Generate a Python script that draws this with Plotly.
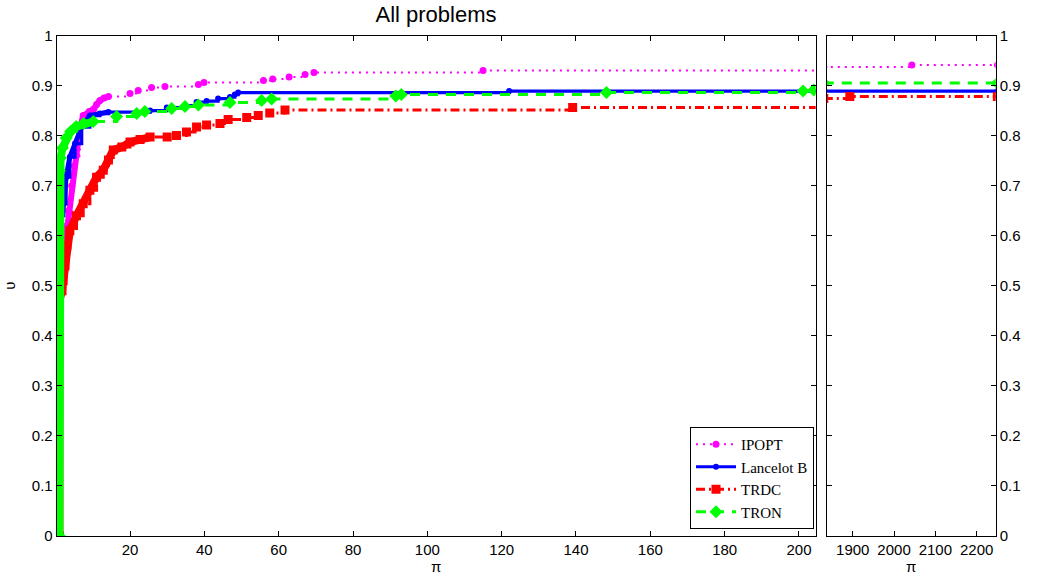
import plotly.graph_objects as go

W, H = 1048, 579

# ---------------- data ----------------
series_names = ["IPOPT", "Lancelot B", "TRDC", "TRON"]

# IPOPT
ipopt_dense_x = [1, 1, 2.0, 2.5, 3.0, 3.4, 4.3, 5.0, 5.6, 6.5, 7.4, 9.0, 10.1, 11.0, 11.9, 13.0, 14.2]
ipopt_dense_y = [0, 0.50, 0.55, 0.58, 0.62, 0.65, 0.70, 0.74, 0.76, 0.815, 0.84, 0.848, 0.852, 0.862, 0.870, 0.875, 0.878]
ipopt_step_x = [20.0, 22.2, 25.8, 29.4, 38.4, 39.9, 55.9, 58.4, 62.8, 67.1, 69.5, 115.0, 206]
ipopt_step_y = [0.884, 0.890, 0.896, 0.898, 0.902, 0.906, 0.910, 0.913, 0.917, 0.922, 0.926, 0.930, 0.930]
ipopt_tail_x = [1830, 2043, 2250]
ipopt_tail_y = [0.937, 0.941, 0.941]

# Lancelot B
lanc_dense_x = [1, 1, 1.5, 2.2, 2.8, 3.8, 5.2, 7.0, 9.2, 11.9, 14.2]
lanc_dense_y = [0, 0.62, 0.64, 0.664, 0.717, 0.757, 0.784, 0.817, 0.840, 0.844, 0.847]
lanc_step_x = [25.4, 29.9, 34.8, 37.9, 40.6, 43.7, 46.9, 48.2, 49.1, 122.0, 206]
lanc_step_y = [0.850, 0.856, 0.860, 0.867, 0.869, 0.874, 0.877, 0.882, 0.886, 0.889, 0.889]
lanc_tail_x = [1830, 2250]
lanc_tail_y = [0.889, 0.889]

# TRDC
trdc_dense_x = [1, 1, 1.7, 2.0, 2.5, 3.0, 3.8, 5.6, 7.4, 9.2, 11.0, 12.8, 14.2, 15.5, 17.8, 20.0, 22.7, 25.4]
trdc_dense_y = [0, 0.47, 0.49, 0.51, 0.54, 0.58, 0.61, 0.64, 0.664, 0.691, 0.717, 0.731, 0.751, 0.771, 0.777, 0.787, 0.792, 0.797]
trdc_step_x = [30.0, 32.5, 35.2, 37.9, 40.6, 44.2, 46.4, 51.4, 54.5, 57.6, 61.7, 139.1, 206]
trdc_step_y = [0.797, 0.800, 0.807, 0.817, 0.821, 0.824, 0.832, 0.836, 0.840, 0.845, 0.851, 0.856, 0.856]
trdc_tail_x = [1830, 1893, 2250]
trdc_tail_y = [0.874, 0.878, 0.878]

# TRON
tron_dense_x = [1, 1, 1.3, 1.8, 2.8, 4.0, 5.5, 7.5, 10.1]
tron_dense_y = [0, 0.73, 0.755, 0.775, 0.795, 0.808, 0.818, 0.824, 0.828]
tron_step_x = [16.4, 21.8, 24.0, 31.2, 34.8, 38.4, 46.9, 55.4, 58.1, 91.5, 93.0, 148.2, 201.1, 204.0, 206]
tron_step_y = [0.838, 0.844, 0.848, 0.854, 0.858, 0.861, 0.866, 0.870, 0.873, 0.879, 0.882, 0.886, 0.889, 0.891, 0.891]
tron_tail_x = [1830, 2250]
tron_tail_y = [0.905, 0.905]

left_ticks = [20, 40, 60, 80, 100, 120, 140, 160, 180, 200]
right_ticks = [1900, 2000, 2100, 2200]

# ---------------- styles ----------------
styles = {
    "IPOPT": dict(color="#FF00FF", dash="2px,5px", width=2, symbol="circle", msize=7, band=6),
    "Lancelot B": dict(color="#0000FF", dash="solid", width=3.2, symbol="circle", msize=6, band=5),
    "TRDC": dict(color="#FF0000", dash="9px,4px,2px,4px", width=3, symbol="square", msize=9, band=8),
    "TRON": dict(color="#00FF00", dash="10px,8px", width=3, symbol="diamond", msize=10, band=8),
}

data = {
    "IPOPT": (ipopt_dense_x, ipopt_dense_y, ipopt_step_x, ipopt_step_y, ipopt_tail_x, ipopt_tail_y),
    "Lancelot B": (lanc_dense_x, lanc_dense_y, lanc_step_x, lanc_step_y, lanc_tail_x, lanc_tail_y),
    "TRDC": (trdc_dense_x, trdc_dense_y, trdc_step_x, trdc_step_y, trdc_tail_x, trdc_tail_y),
    "TRON": (tron_dense_x, tron_dense_y, tron_step_x, tron_step_y, tron_tail_x, tron_tail_y),
}

fig = go.Figure()

for name in series_names:
    dx, dy, sx, sy, tx, ty = data[name]
    st = styles[name]
    # dense region: overlapping markers form a thick band
    fig.add_trace(go.Scatter(
        x=dx, y=dy, mode="lines", line=dict(color=st["color"], width=st["band"]),
        showlegend=False, hoverinfo="skip", xaxis="x", yaxis="y"))
    # full staircase with markers
    fig.add_trace(go.Scatter(
        x=dx + sx, y=dy + sy, mode="lines+markers", name=name,
        line=dict(color=st["color"], width=st["width"], dash=st["dash"], shape="hv"),
        marker=dict(symbol=st["symbol"], size=st["msize"], color=st["color"]),
        xaxis="x", yaxis="y"))
    # right (broken-axis) panel
    fig.add_trace(go.Scatter(
        x=tx, y=ty, mode="lines+markers", name=name, showlegend=False,
        line=dict(color=st["color"], width=st["width"], dash=st["dash"], shape="hv"),
        marker=dict(symbol=st["symbol"], size=st["msize"], color=st["color"]),
        xaxis="x2", yaxis="y2"))

axis_common = dict(
    showline=True, linecolor="black", linewidth=1, mirror="ticks",
    ticks="inside", ticklen=5, tickcolor="black", tickwidth=1,
    showgrid=False, zeroline=False, automargin=False,
    tickfont=dict(family="Liberation Sans", size=15, color="black"),
)

ydom = [1 - 536 / H, 1 - 35.5 / H]

fig.update_layout(
    width=W, height=H, autosize=False,
    margin=dict(l=0, r=0, t=0, b=0, autoexpand=False),
    paper_bgcolor="white", plot_bgcolor="white",
    font=dict(family="Liberation Sans", size=15, color="black"),
    title=dict(text="All problems", x=436 / W, xanchor="center",
               y=1 - 14 / H, yanchor="middle", automargin=False,
               font=dict(family="Liberation Sans", size=22, color="black")),
    xaxis=dict(axis_common, domain=[56.7 / W, 815.7 / W], range=[0.27, 204.5],
               tickvals=left_ticks, anchor="y",
               title=dict(text="π", standoff=4, font=dict(size=15))),
    yaxis=dict(axis_common, domain=ydom, range=[0, 1], dtick=0.1, tick0=0,
               anchor="x", title=dict(text="υ", standoff=12, font=dict(size=15))),
    xaxis2=dict(axis_common, domain=[826.7 / W, 995.7 / W], range=[1837, 2246],
                tickvals=right_ticks, anchor="y2",
                title=dict(text="π", standoff=4, font=dict(size=15))),
    yaxis2=dict(axis_common, domain=ydom, range=[0, 1], dtick=0.1, tick0=0,
                anchor="x2", side="right"),
    legend=dict(x=814 / W, y=1 - 529 / H, xanchor="right", yanchor="bottom",
                bgcolor="white", bordercolor="black", borderwidth=1,
                font=dict(family="Liberation Serif", size=15, color="black"),
                tracegroupgap=0, itemwidth=40),
)

fig.write_html("out.html",
               config={"displayModeBar": False},
               post_script="document.body.style.margin='0';document.body.style.padding='0';")
